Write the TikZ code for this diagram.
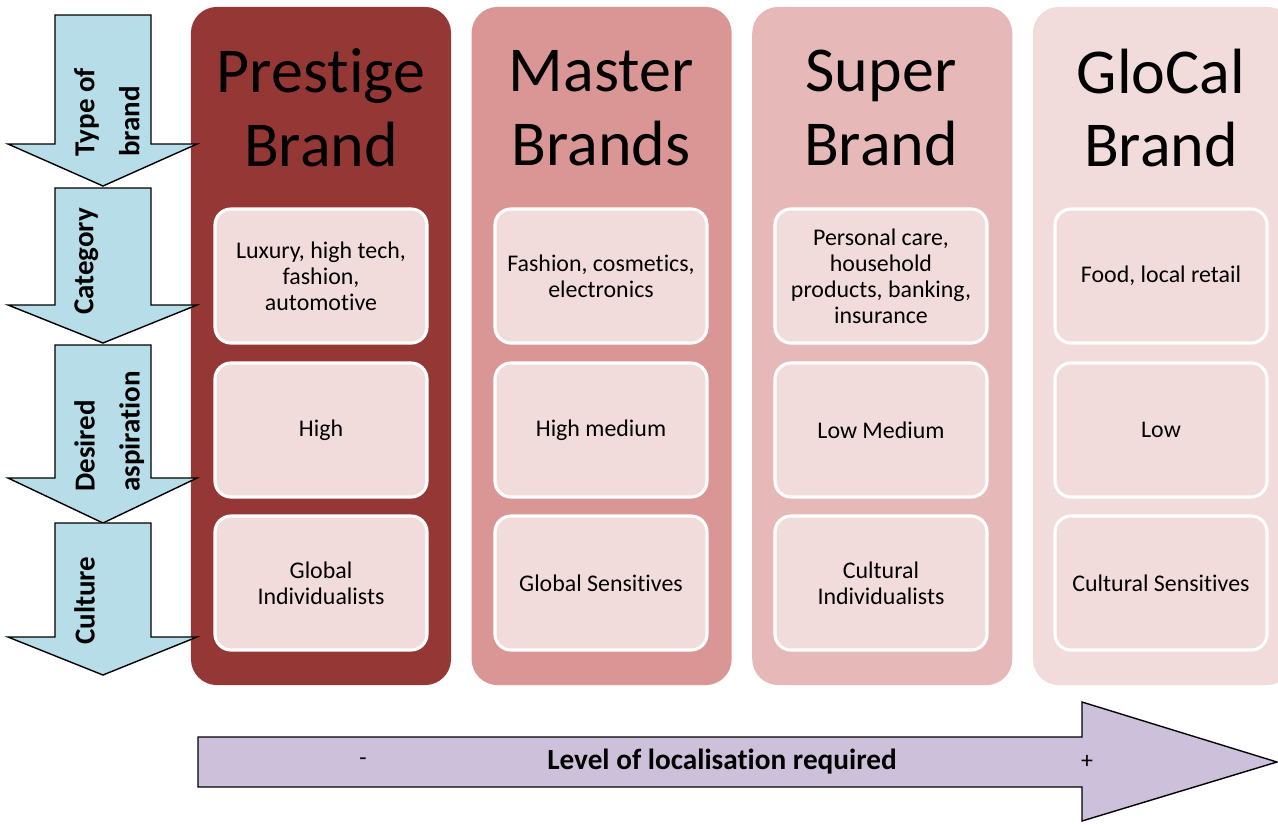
\documentclass[tikz,border=0pt]{standalone}
\usepackage{fontspec}
\setmainfont{Carlito}[Ligatures=NoCommon]
\usetikzlibrary{positioning}

\definecolor{prestigefill}{HTML}{953735}
\definecolor{masterfill}{HTML}{D99694}
\definecolor{superfill}{HTML}{E6B9B8}
\definecolor{glocalfill}{HTML}{F2DCDB}
\definecolor{cellfill}{HTML}{F2DCDB}
\definecolor{stagefill}{HTML}{B7DEE8}
\definecolor{levelfill}{HTML}{CCC0DA}

\tikzset{
  brandcol/.style={rounded corners=0.65cm, minimum width=6.5cm, minimum height=16.95cm, inner sep=0pt},
  brandtitle/.style={font=\fontsize{45.5}{52.6}\selectfont, align=center},
  cell/.style={fill=cellfill, draw=white, line width=2.2pt, rounded corners=0.4cm,
    minimum width=5.3cm, minimum height=3.35cm, align=center, font=\fontsize{17}{18.5}\selectfont},
  stagearrow/.style={fill=stagefill, draw=black, line width=1pt},
  stagelabel/.style={rotate=90, anchor=north west, inner sep=0pt, align=left,
    font=\fontsize{20.6}{32}\selectfont\bfseries},
  levelarrow/.style={fill=levelfill, draw=black, line width=1pt},
}

\begin{document}
\begin{tikzpicture}[x=0.025cm, y=-0.025cm]
  \clip (0,0) rectangle (1278,824);
  %brand columns
  \node[brandcol, fill=prestigefill] (prestige) at (321,346) {};
  \node[brandcol, fill=masterfill, right=0.5cm of prestige] (master) {};
  \node[brandcol, fill=superfill, right=0.5cm of master] (super) {};
  \node[brandcol, fill=glocalfill, right=0.5cm of super] (glocal) {};
  %titles
  \node[brandtitle] (prestigeT) at (321,108) {Prestige\\Brand};
  \node[brandtitle] (masterT) at (601,108) {Master\\Brands};
  \node[brandtitle] (superT) at (881,108) {Super\\Brand};
  \node[brandtitle] (glocalT) at (1161,108) {GloCal\\Brand};
  %category row
  \node[cell] (prestigeC) at (321,276) {Luxury, high tech,\\fashion,\\automotive};
  \node[cell] (masterC) at (601,276) {Fashion, cosmetics,\\electronics};
  \node[cell] (superC) at (881,276) {Personal care,\\household\\products, banking,\\insurance};
  \node[cell] (glocalC) at (1161,276) {Food, local retail};
  %aspiration row
  \node[cell] (prestigeA) at (321,430) {High};
  \node[cell] (masterA) at (601,430) {High medium};
  \node[cell] (superA) at (881,430) {Low Medium};
  \node[cell] (glocalA) at (1161,430) {Low};
  %culture row
  \node[cell] (prestigeU) at (321,583) {Global\\Individualists};
  \node[cell] (masterU) at (601,583) {Global Sensitives};
  \node[cell] (superU) at (881,583) {Cultural\\Individualists};
  \node[cell] (glocalU) at (1161,583) {Cultural Sensitives};
  %down arrows on the left
  \foreach \top/\base/\tip in {15/144/186, 188/305/343, 345/478/523, 523/637/675}
    \draw[stagearrow] (55,\top) -- (151,\top) -- (151,\base) -- (197,\base)
      -- (103,\tip) -- (8,\base) -- (55,\base) -- cycle;
  \node[stagelabel] (typeL) at (74,157) {Type of\\brand};
  \node[stagelabel] (categoryL) at (74,315) {Category};
  \node[stagelabel] (aspirationL) at (74,492) {Desired\\aspiration};
  \node[stagelabel] (cultureL) at (74,645) {Culture};
  %localisation arrow
  \draw[levelarrow] (198,737) -- (1082,737) -- (1082,702) -- (1277,762)
    -- (1082,821) -- (1082,787) -- (198,787) -- cycle;
  \node[font=\fontsize{20.8}{24}\selectfont\bfseries] (levelL) at (722,762) {Level of localisation required};
  \node[font=\fontsize{17}{18}\selectfont] (minusL) at (363,762) {-};
  \node[font=\fontsize{17}{18}\selectfont] (plusL) at (1087,762) {+};
\end{tikzpicture}
\end{document}
